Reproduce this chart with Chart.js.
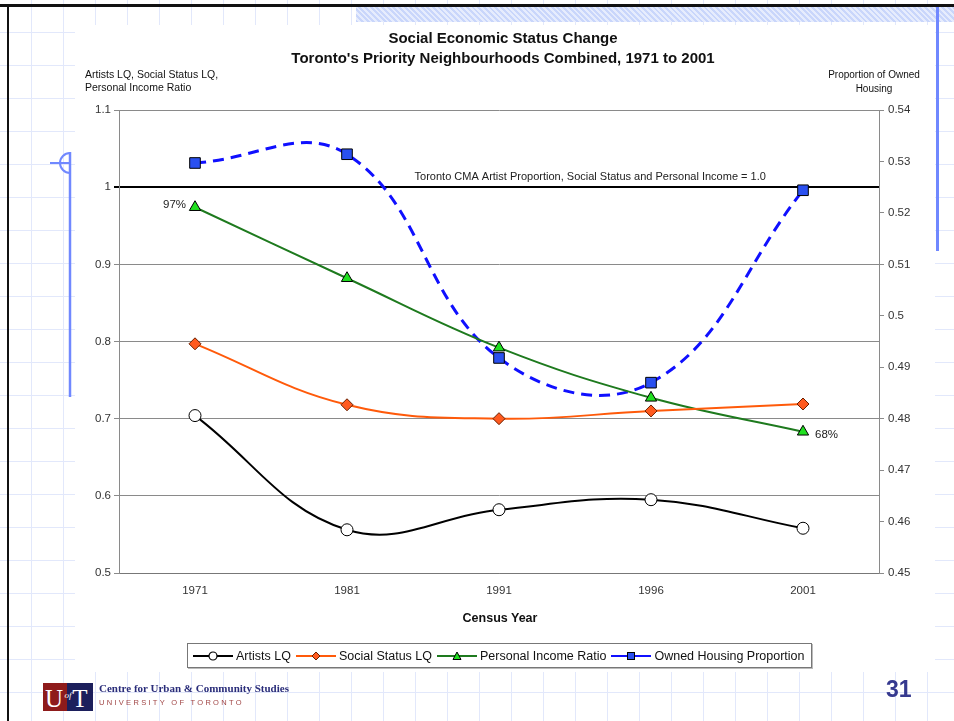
<!DOCTYPE html>
<html>
<head>
<meta charset="utf-8">
<script src="https://cdn.jsdelivr.net/npm/chart.js@4.4.1/dist/chart.umd.min.js"></script>
<style>
  body { margin: 0; width: 954px; height: 721px; overflow: hidden; background: #fff; font-family: "Liberation Sans", Arial, sans-serif; position: relative; }
  .pattern { position: absolute; left: 0; top: 0; width: 954px; height: 721px;
    background-image:
      repeating-linear-gradient(to right, transparent 0 31px, #e2e8fb 31px 32px),
      repeating-linear-gradient(to bottom, transparent 0 32px, #e2e8fb 32px 33px); }
  .whitebox { position: absolute; left: 75px; top: 25px; width: 860px; height: 647px; background: #fff; }
  .hatch { position: absolute; left: 356px; top: 7px; width: 598px; height: 15px;
    background-image:
      repeating-linear-gradient(45deg, #c9d6fb 0 2px, #e6ecfd 2px 4px),
      repeating-linear-gradient(-45deg, #c9d6fb 0 2px, transparent 2px 4px); }
  .border-top { position: absolute; left: 0; top: 4px; width: 954px; height: 3px; background: #111; }
  .border-left { position: absolute; left: 7px; top: 4px; width: 2px; height: 717px; background: #111; }
  .blue-right { position: absolute; left: 936px; top: 7px; width: 3px; height: 244px; background: #7088ff; }
  canvas { position: absolute; left: 0; top: 0; }
  .txt { position: absolute; color: #111; white-space: nowrap; }
  .title { left: 0; width: 1006px; text-align: center; font-weight: bold; font-size: 15px; }
  .legend { position: absolute; left: 187px; top: 643px; width: 623px; height: 23px; border: 1px solid #777;
    box-shadow: 1px 1px 0 #bbb; display: flex; align-items: center; font-size: 12.5px; color: #111; background: #fff; }
  .legend span.item { display: flex; align-items: center; margin-left: 4px; }
  .legend svg { margin-right: 2px; }
</style>
</head>
<body>
<div class="pattern"></div>
<div class="whitebox"></div>
<div class="hatch"></div>
<div class="border-top"></div>
<div class="border-left"></div>
<div class="blue-right"></div>
<svg style="position:absolute;left:0;top:0" width="954" height="721">
  <line x1="70" y1="152" x2="70" y2="397" stroke="#7088ff" stroke-width="2.5"/>
  <line x1="50" y1="163" x2="70" y2="163" stroke="#7088ff" stroke-width="2"/>
  <path d="M70 153 A10 10 0 0 0 70 173" fill="none" stroke="#7088ff" stroke-width="2"/>
</svg>

<canvas id="chart" width="954" height="721"></canvas>

<div class="txt title" style="top:29px">Social Economic Status Change</div>
<div class="txt title" style="top:49px">Toronto's Priority Neighbourhoods Combined, 1971 to 2001</div>
<div class="txt" style="left:85px;top:68px;font-size:10.5px;line-height:13px">Artists LQ, Social Status LQ,<br>Personal Income Ratio</div>
<div class="txt" style="left:818px;top:68px;width:112px;text-align:center;font-size:10px;line-height:14px">Proportion of Owned<br>Housing</div>
<div class="txt" style="left:400px;top:611px;width:200px;text-align:center;font-size:12.5px;font-weight:bold">Census Year</div>

<div class="legend" id="legend"></div>

<!-- footer -->
<svg style="position:absolute;left:43px;top:683px" width="50" height="28">
  <rect x="0" y="0" width="24" height="28" fill="#8e1b1b"/>
  <rect x="24" y="0" width="26" height="28" fill="#1c1f5c"/>
  <text x="11" y="24" fill="#fff" font-family="Liberation Serif" font-size="25" text-anchor="middle">U</text>
  <text x="37" y="24" fill="#fff" font-family="Liberation Serif" font-size="25" text-anchor="middle">T</text>
  <text x="25" y="15" fill="#fff" font-family="Liberation Serif" font-style="italic" font-size="9" text-anchor="middle">of</text>
</svg>
<div class="txt" style="left:99px;top:682px;font-family:'Liberation Serif',serif;font-weight:bold;font-size:11px;color:#2a2d7a">Centre for Urban &amp; Community Studies</div>
<div class="txt" style="left:99px;top:698px;font-size:7.5px;letter-spacing:2.3px;color:#a04545">UNIVERSITY OF TORONTO</div>
<div class="txt" style="left:886px;top:676px;font-size:23px;font-weight:bold;color:#35398f">31</div>

<script>
// chart values
const years = ['1971', '1981', '1991', '1996', '2001'];
const artistsLQ = [0.704, 0.556, 0.582, 0.595, 0.558];
const socialStatusLQ = [0.797, 0.718, 0.700, 0.710, 0.719];
const incomeRatio = [0.974, 0.882, 0.792, 0.727, 0.683];
const ownedHousing = [0.5297, 0.5314, 0.4918, 0.4870, 0.5244];
const incomeLabels = ['97%', '', '', '', '68%'];
const refLineLabel = 'Toronto CMA Artist Proportion, Social Status and Personal Income = 1.0';

const series = [
    { label: 'Artists LQ', data: artistsLQ, color: '#000000', fill: '#ffffff', stroke: '#000000', style: 'circle', radius: 6, axis: 'y' },
    { label: 'Social Status LQ', data: socialStatusLQ, color: '#ff5a0a', fill: '#ff5a1f', stroke: '#6a2000', style: 'rectRot', radius: 6, axis: 'y' },
    { label: 'Personal Income Ratio', data: incomeRatio, color: '#1e7a1e', fill: '#20e020', stroke: '#000000', style: 'triangle', radius: 6.5, axis: 'y' },
    { label: 'Owned Housing Proportion', data: ownedHousing, color: '#1010ff', fill: '#2a50f0', stroke: '#000000', style: 'rect', radius: 7.5, axis: 'y1', dash: [11, 7] }
];

function fmt(v) {
    return String(+Number(v).toFixed(2));
}

// draws the % labels and the text above the 1.0 line
const labelPlugin = {
    id: 'extraLabels',
    afterDatasetsDraw(chart) {
        const ctx = chart.ctx;
        const meta = chart.getDatasetMeta(2);
        ctx.save();
        ctx.font = '11.5px "Liberation Sans", Arial, sans-serif';
        ctx.fillStyle = '#222';
        ctx.textBaseline = 'middle';
        incomeLabels.forEach((txt, i) => {
            if (!txt) return;
            const pt = meta.data[i];
            if (i === 0) {
                ctx.textAlign = 'right';
                ctx.fillText(txt, pt.x - 9, pt.y - 2);
            } else {
                ctx.textAlign = 'left';
                ctx.fillText(txt, pt.x + 12, pt.y + 3);
            }
        });
        const yPix = chart.scales.y.getPixelForValue(1.0);
        const area = chart.chartArea;
        ctx.font = '11px "Liberation Sans", Arial, sans-serif';
        ctx.textAlign = 'center';
        ctx.fillText(refLineLabel, area.left + (area.right - area.left) * 0.62, yPix - 10);
        ctx.restore();
    }
};

const tickFont = { size: 11.5, family: '"Liberation Sans", Arial' };

const chart = new Chart(document.getElementById('chart').getContext('2d'), {
    type: 'line',
    data: {
        labels: years,
        datasets: series.map(s => ({
            label: s.label,
            data: s.data,
            yAxisID: s.axis,
            borderColor: s.color,
            borderWidth: s.dash ? 3 : 2,
            borderDash: s.dash || [],
            tension: 0.4,
            fill: false,
            pointStyle: s.style,
            pointRadius: s.radius,
            pointHoverRadius: s.radius,
            pointBackgroundColor: s.fill,
            pointBorderColor: s.stroke,
            pointBorderWidth: 1
        }))
    },
    options: {
        responsive: false,
        animation: false,
        layout: { padding: { top: 110, left: 0, right: 0, bottom: 0 } },
        plugins: {
            legend: { display: false },
            title: { display: false },
            tooltip: { enabled: false }
        },
        scales: {
            x: {
                offset: true,
                grid: { display: false, drawTicks: false },
                border: { display: true, color: '#777', width: 1 },
                ticks: { color: '#333', font: tickFont, padding: 11 },
                afterFit: scale => { scale.height = 148; }
            },
            y: {
                position: 'left',
                min: 0.5,
                max: 1.1,
                ticks: { stepSize: 0.1, callback: fmt, color: '#333', font: tickFont, padding: 3 },
                grid: {
                    color: c => Math.abs(c.tick.value - 1) < 1e-6 ? '#000' : '#8a8a8a',
                    lineWidth: c => Math.abs(c.tick.value - 1) < 1e-6 ? 2 : 1,
                    tickLength: 5
                },
                border: { color: '#8a8a8a' },
                afterFit: scale => { scale.width = 119; }
            },
            y1: {
                position: 'right',
                min: 0.45,
                max: 0.54,
                ticks: { stepSize: 0.01, callback: fmt, color: '#333', font: tickFont, padding: 4 },
                grid: { drawOnChartArea: false, color: '#8a8a8a', tickLength: 5 },
                border: { color: '#8a8a8a' },
                afterFit: scale => { scale.width = 75; }
            }
        }
    },
    plugins: [labelPlugin]
});

// legend with line + marker like the original
function markerSvg(s) {
    let m = '';
    if (s.style === 'circle') m = `<circle cx="21" cy="7" r="4" fill="${s.fill}" stroke="${s.stroke}" stroke-width="1.2"/>`;
    if (s.style === 'rectRot') m = `<polygon points="21,3 25,7 21,11 17,7" fill="${s.fill}" stroke="${s.stroke}"/>`;
    if (s.style === 'triangle') m = `<polygon points="21,3 25,10.5 17,10.5" fill="${s.fill}" stroke="${s.stroke}"/>`;
    if (s.style === 'rect') m = `<rect x="17.5" y="3.5" width="7" height="7" fill="${s.fill}" stroke="${s.stroke}"/>`;
    return `<svg width="42" height="14"><line x1="1" y1="7" x2="41" y2="7" stroke="${s.color}" stroke-width="2"/>${m}</svg>`;
}
document.getElementById('legend').innerHTML = series
    .map(s => `<span class="item">${markerSvg(s)}${s.label}</span>`)
    .join('');
</script>
</body>
</html>
